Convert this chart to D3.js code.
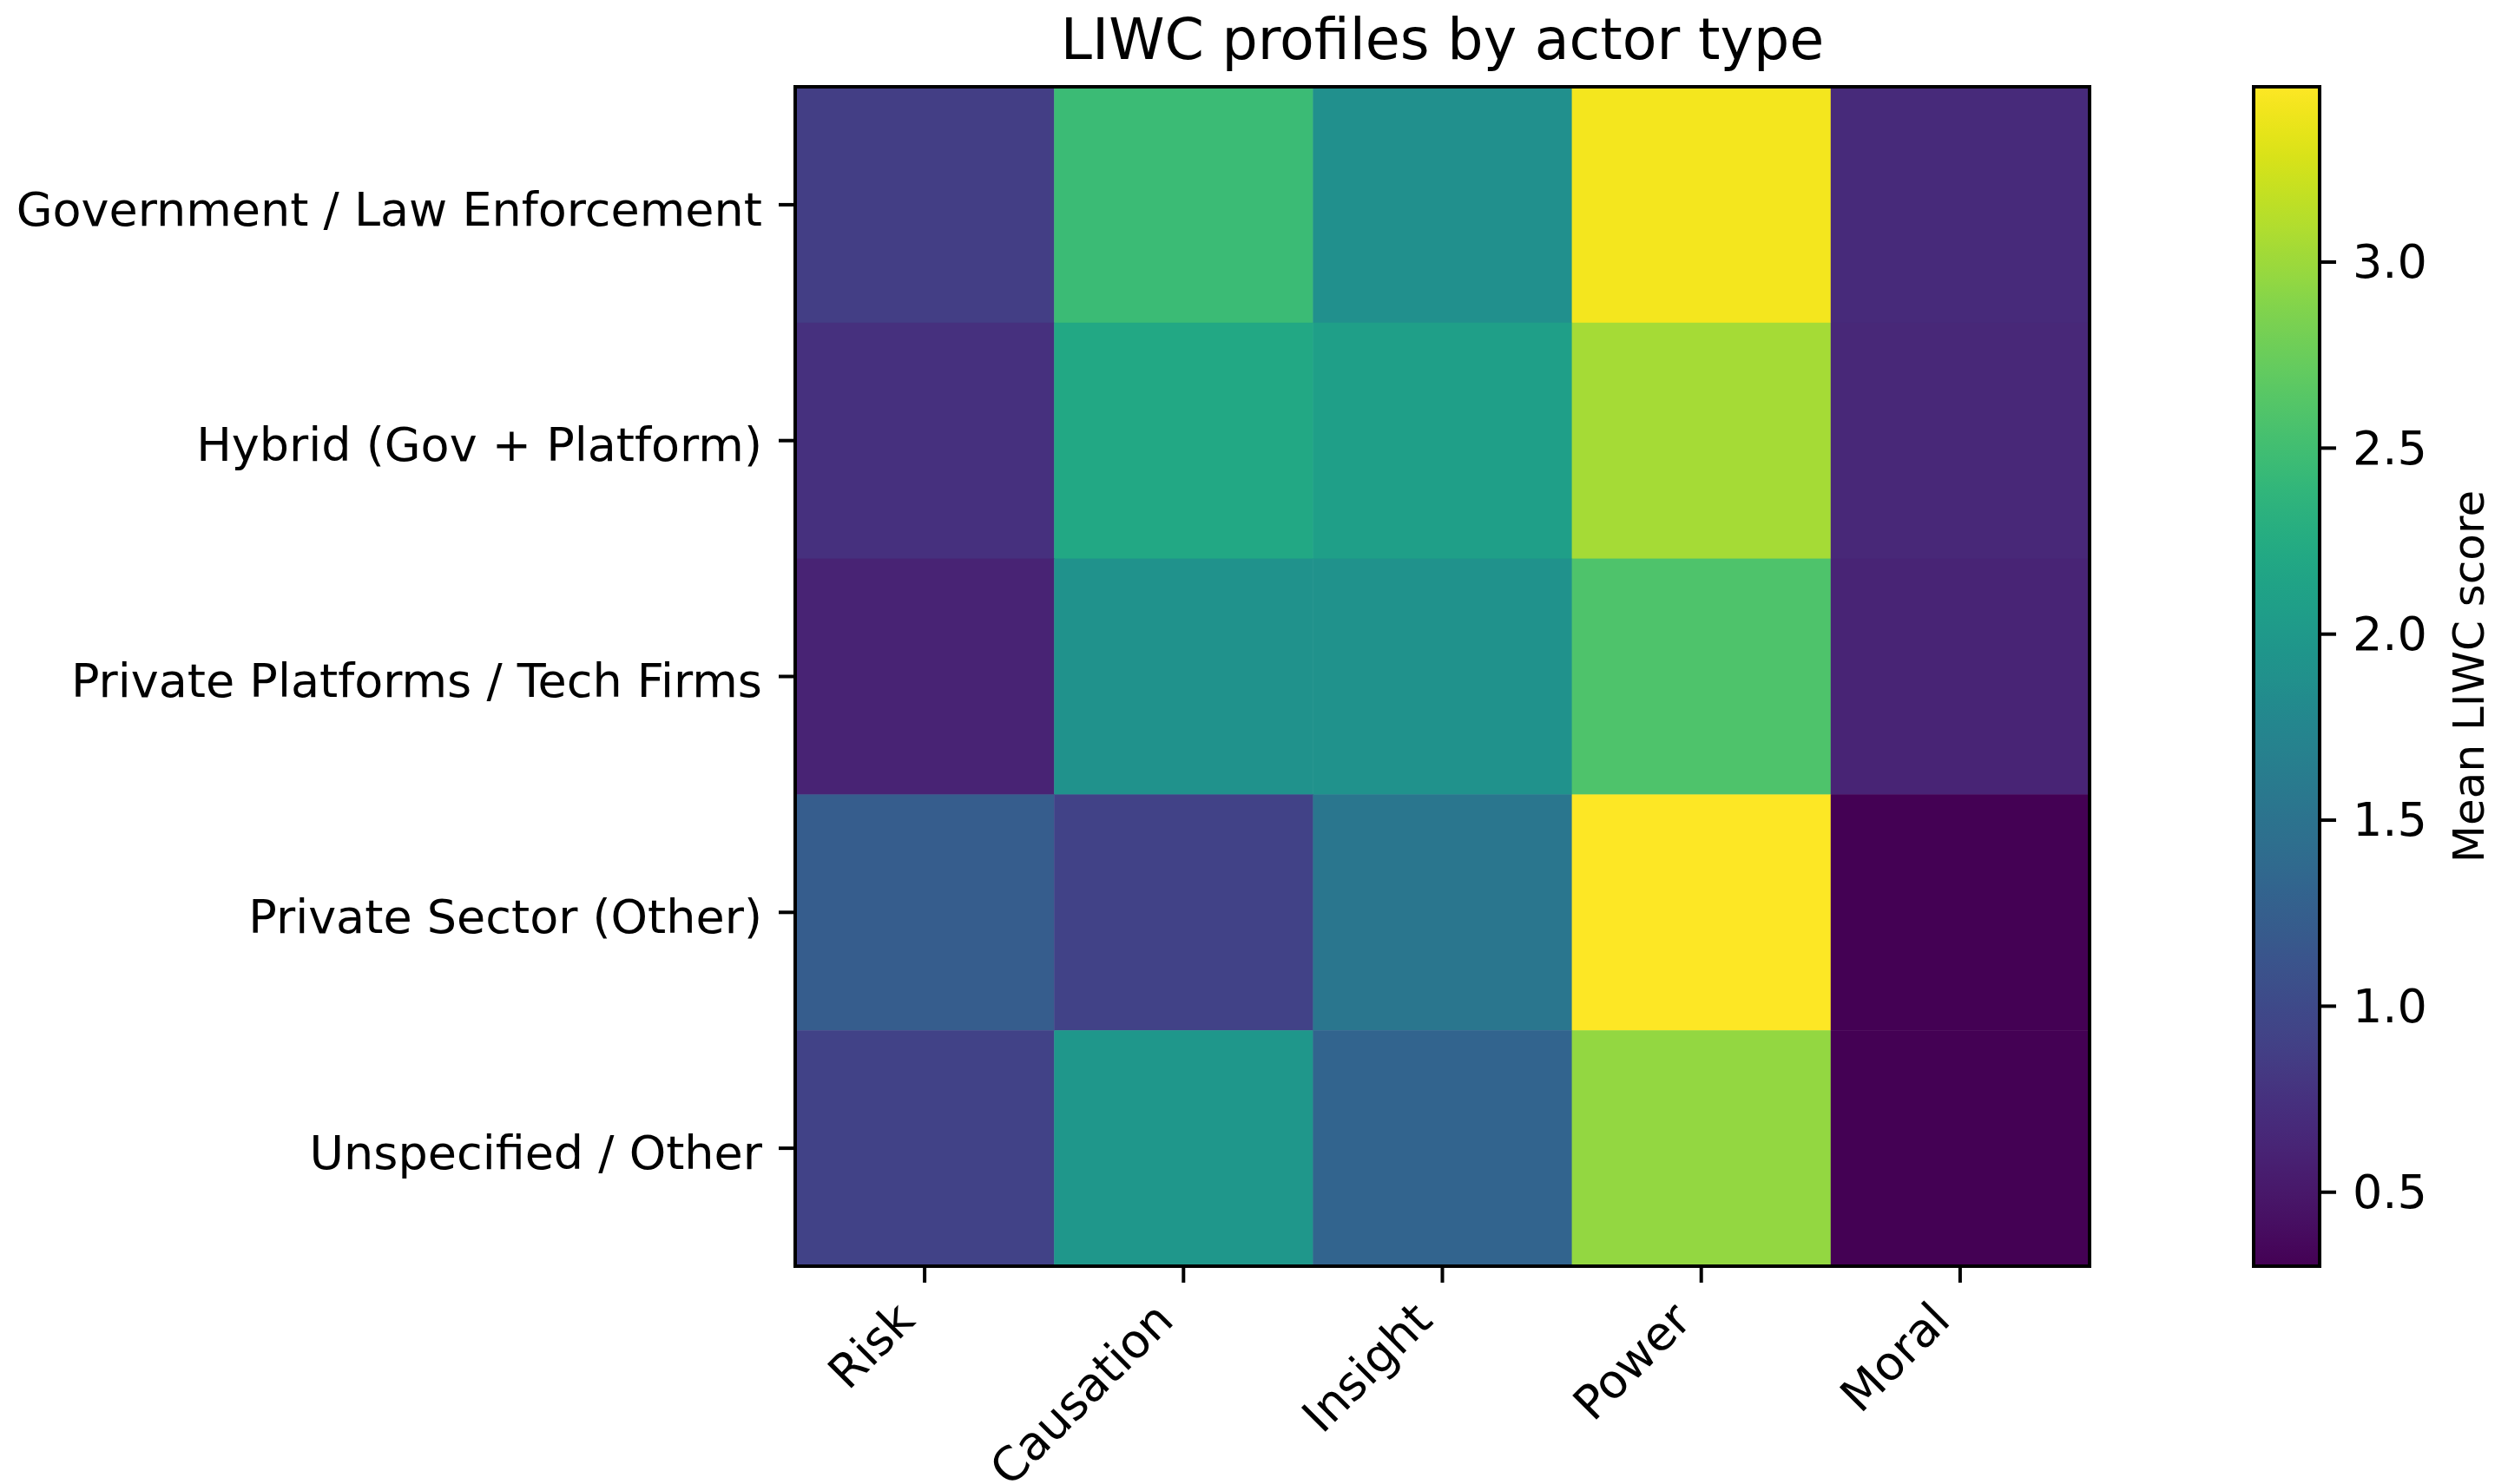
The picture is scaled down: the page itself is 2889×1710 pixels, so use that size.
<!DOCTYPE html>
<html>
<head>
<meta charset="utf-8">
<script src="https://cdn.jsdelivr.net/npm/d3@7"></script>
<style>
  html, body { margin: 0; padding: 0; background: #fff; }
  svg { display: block; }
  text { font-family: "DejaVu Sans", sans-serif; fill: #000; }
</style>
</head>
<body>
<svg id="chart" width="2889" height="1710"></svg>
<script>
// ---- data ----
const actorTypes = [
  "Government / Law Enforcement",
  "Hybrid (Gov + Platform)",
  "Private Platforms / Tech Firms",
  "Private Sector (Other)",
  "Unspecified / Other"
];
const liwcCategories = ["Risk", "Causation", "Insight", "Power", "Moral"];
const govValues      = [0.87, 2.46, 1.88, 3.41, 0.68];
const hybridValues   = [0.74, 2.20, 2.08, 3.04, 0.65];
const platformValues = [0.60, 1.92, 1.92, 2.58, 0.61];
const privateValues  = [1.22, 0.93, 1.54, 3.47, 0.30];
const otherValues    = [0.93, 1.98, 1.31, 2.96, 0.30];
const valueRows = [govValues, hybridValues, platformValues, privateValues, otherValues];
const colorbarTicks = [0.5, 1.0, 1.5, 2.0, 2.5, 3.0];
const titleText = "LIWC profiles by actor type";
const colorbarLabel = "Mean LIWC score";

// ---- layout ----
const svg = d3.select("#chart");
const plot = { left: 916, right: 2407, top: 100, bottom: 1459 };
const cbar = { left: 2596, right: 2672, top: 100, bottom: 1459 };
const fontSize = 54;
const tickLen = 19, tickPad = 19;

const cells = [];
valueRows.forEach((row, i) => row.forEach((v, j) => cells.push({ row: actorTypes[i], col: liwcCategories[j], v })));
const allVals = cells.map(d => d.v);
const vmin = d3.min(allVals), vmax = d3.max(allVals);

const x = d3.scaleBand().domain(liwcCategories).range([plot.left, plot.right]).padding(0);
const y = d3.scaleBand().domain(actorTypes).range([plot.top, plot.bottom]).padding(0);
const color = d3.scaleSequential(d3.interpolateViridis).domain([vmin, vmax]);

// cells
svg.append("g").selectAll("rect").data(cells).join("rect")
  .attr("x", d => x(d.col))
  .attr("y", d => y(d.row))
  .attr("width", x.bandwidth() + 0.5)
  .attr("height", y.bandwidth() + 0.5)
  .attr("fill", d => color(d.v));

// frame
svg.append("rect")
  .attr("x", plot.left).attr("y", plot.top)
  .attr("width", plot.right - plot.left).attr("height", plot.bottom - plot.top)
  .attr("fill", "none").attr("stroke", "#000").attr("stroke-width", 4);

// y axis
const yAxis = svg.append("g").attr("transform", `translate(${plot.left},0)`)
  .call(d3.axisLeft(y).tickSize(tickLen).tickPadding(tickPad));
yAxis.select(".domain").remove();
yAxis.selectAll(".tick line").attr("stroke", "#000").attr("stroke-width", 4);
yAxis.selectAll(".tick text").attr("font-size", fontSize).attr("font-family", "DejaVu Sans").attr("dy", "0.44em");

// x axis
const xAxis = svg.append("g").attr("transform", `translate(0,${plot.bottom})`)
  .call(d3.axisBottom(x).tickSize(tickLen).tickPadding(tickPad));
xAxis.select(".domain").remove();
xAxis.selectAll(".tick line").attr("stroke", "#000").attr("stroke-width", 4);
xAxis.selectAll(".tick text")
  .attr("font-size", fontSize).attr("font-family", "DejaVu Sans")
  .attr("text-anchor", "end")
  .attr("dy", 0)
  .attr("y", 0)
  .attr("transform", `translate(-9,${tickLen + tickPad + 27}) rotate(-45)`);

// title
svg.append("text")
  .attr("x", (plot.left + plot.right) / 2).attr("y", 68)
  .attr("text-anchor", "middle").attr("font-size", 65)
  .text(titleText);

// colorbar
const cy = d3.scaleLinear().domain([vmin, vmax]).range([cbar.bottom, cbar.top]);
const defs = svg.append("defs");
const grad = defs.append("linearGradient").attr("id", "cbgrad")
  .attr("x1", 0).attr("y1", 1).attr("x2", 0).attr("y2", 0);
d3.range(0, 1.0001, 0.02).forEach(t => {
  grad.append("stop").attr("offset", t).attr("stop-color", d3.interpolateViridis(t));
});
svg.append("rect")
  .attr("x", cbar.left).attr("y", cbar.top)
  .attr("width", cbar.right - cbar.left).attr("height", cbar.bottom - cbar.top)
  .attr("fill", "url(#cbgrad)")
  .attr("stroke", "#000").attr("stroke-width", 4);

const cAxis = svg.append("g").attr("transform", `translate(${cbar.right},0)`)
  .call(d3.axisRight(cy).tickValues(colorbarTicks).tickFormat(d3.format(".1f")).tickSize(tickLen).tickPadding(tickPad));
cAxis.select(".domain").remove();
cAxis.selectAll(".tick line").attr("stroke", "#000").attr("stroke-width", 4);
cAxis.selectAll(".tick text").attr("font-size", fontSize).attr("font-family", "DejaVu Sans").attr("dy", "0.34em");

svg.append("text")
  .attr("transform", `translate(2843,${(cbar.top + cbar.bottom) / 2}) rotate(-90)`)
  .attr("text-anchor", "middle").attr("dy", "0.35em")
  .attr("font-size", 50)
  .text(colorbarLabel);
</script>
</body>
</html>
